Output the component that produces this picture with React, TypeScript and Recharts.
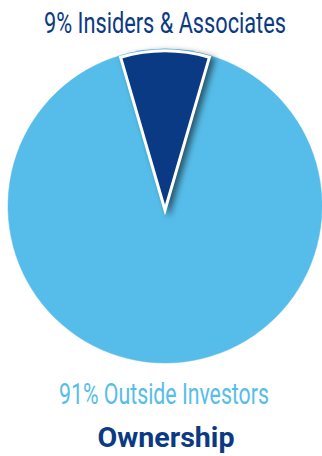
import { useLayoutEffect, useRef, useState } from 'react';
import { PieChart, Pie, Cell } from 'recharts';

const categories = ['Insiders & Associates', 'Outside Investors'];
const shares = [9, 91];
const labels = ['9% Insiders & Associates', '91% Outside Investors'];
const title = 'Ownership';

const navy = '#0b3a84';
const sky = '#56bdea';

const data = categories.map((name, i) => ({ name, value: shares[i] }));
const total = shares.reduce((a, b) => a + b, 0);
// keep the small slice centred at the top
const start = 90 + (shares[0] / total) * 180;

// squeezes a text horizontally to a given width, like the condensed face in the original
function Narrow({ x, y, width, size, color, bold, children }: any) {
  const ref = useRef<SVGTextElement>(null);
  const [k, setK] = useState(1);
  useLayoutEffect(() => {
    if (ref.current) {
      const w = ref.current.getComputedTextLength();
      if (w > 0) setK(width / w);
    }
  }, [width]);
  return (
    <g transform={`translate(${x} ${y}) scale(${k} 1)`}>
      <text
        ref={ref}
        x={0}
        y={0}
        textAnchor="middle"
        fontSize={size}
        fontWeight={bold ? 'bold' : 'normal'}
        fill={color}
      >
        {children}
      </text>
    </g>
  );
}

export default function App() {
  return (
    <div style={{ position: 'absolute', left: 0, top: 0, width: 322, height: 456, background: '#fff' }}>
      <PieChart width={322} height={456} margin={{ top: 0, right: 0, bottom: 0, left: 0 }}>
        <Pie
          data={data}
          dataKey="value"
          nameKey="name"
          cx={165}
          cy={206}
          outerRadius={157}
          startAngle={start}
          endAngle={start - 360}
          stroke="none"
          isAnimationActive={false}
        >
          {data.map((entry) => (
            <Cell key={entry.name} fill={sky} stroke={sky} strokeWidth={0.5} />
          ))}
        </Pie>
        <Pie
          data={data}
          dataKey="value"
          nameKey="name"
          cx={165}
          cy={210}
          outerRadius={159}
          startAngle={start}
          endAngle={start - 360}
          isAnimationActive={false}
        >
          {data.map((entry, index) =>
            index === 0 ? (
              <Cell
                key={entry.name}
                fill={navy}
                stroke="#fff"
                strokeWidth={3}
                style={{ filter: 'drop-shadow(4px 2px 3px rgba(0,0,0,0.55))' }}
              />
            ) : (
              <Cell key={entry.name} fill="none" stroke="none" />
            )
          )}
        </Pie>
      </PieChart>
      <svg
        width={322}
        height={456}
        style={{ position: 'absolute', left: 0, top: 0, pointerEvents: 'none' }}
        fontFamily="Roboto, sans-serif"
      >
        <Narrow x={165} y={33} width={242} size={30} color={navy}>
          {labels[0]}
        </Narrow>
        <Narrow x={164} y={404} width={210} size={30} color={sky}>
          {labels[1]}
        </Narrow>
        <Narrow x={166} y={447} width={137} size={28} color={navy} bold>
          {title}
        </Narrow>
      </svg>
    </div>
  );
}
